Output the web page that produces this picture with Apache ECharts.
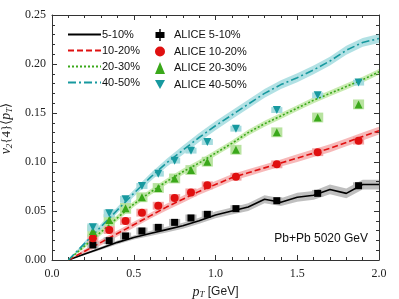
<!DOCTYPE html>
<html><head><meta charset="utf-8">
<script src="https://cdn.jsdelivr.net/npm/echarts@6/dist/echarts.min.js"></script>
<style>html,body{margin:0;padding:0;background:#fff}#c{width:399px;height:299px}</style>
</head><body><div id="c"></div>
<script>
// Model curves (pT grid)
const xModel = [0.1,0.2,0.3,0.4,0.5,0.6,0.7,0.8,0.9,1.0,1.1,1.2,1.3,1.4,1.5,1.6,1.7,1.8,1.9,2.0];
const model5_10  = [0,0.006,0.012,0.018,0.023,0.027,0.031,0.035,0.040,0.046,0.050,0.054,0.062,0.059,0.064,0.066,0.072,0.068,0.077,0.077];
const model10_20 = [0,0.009,0.018,0.027,0.036,0.045,0.054,0.062,0.070,0.077,0.084,0.089,0.094,0.099,0.104,0.109,0.114,0.120,0.126,0.132];
const model20_30 = [0,0.0143,0.0286,0.043,0.057,0.069,0.080,0.090,0.099,0.109,0.119,0.130,0.139,0.147,0.155,0.163,0.170,0.177,0.184,0.192];
const model40_50 = [0,0.017,0.034,0.051,0.068,0.084,0.099,0.112,0.125,0.137,0.148,0.159,0.170,0.179,0.186,0.194,0.203,0.214,0.222,0.226];
// model band half-widths
const band5_10  = [0,0.001,0.0015,0.002,0.002,0.0025,0.003,0.003,0.003,0.0035,0.0035,0.004,0.004,0.004,0.0045,0.0045,0.005,0.005,0.005,0.005];
const band10_20 = [0,0.002,0.003,0.003,0.003,0.003,0.0035,0.0035,0.0035,0.0035,0.0035,0.0035,0.0035,0.0035,0.004,0.004,0.004,0.004,0.004,0.004];
const band20_30 = [0,0.002,0.003,0.003,0.003,0.003,0.003,0.003,0.003,0.003,0.003,0.003,0.003,0.003,0.003,0.003,0.003,0.003,0.003,0.003];
const band40_50 = [0,0.002,0.003,0.003,0.0035,0.004,0.004,0.0045,0.0045,0.0045,0.0045,0.0045,0.0045,0.0045,0.0045,0.0045,0.0045,0.0045,0.0045,0.0045];

// ALICE data
const xData = [0.25,0.35,0.45,0.55,0.65,0.75,0.85,0.95,1.125,1.375,1.625,1.875];
const alice5_10  = [0.0153,0.0197,0.0245,0.0296,0.0333,0.0384,0.0429,0.0466,0.0524,0.0605,0.068,0.0758];
const alice10_20 = [0.0221,0.0306,0.0398,0.0483,0.0554,0.0633,0.069,0.0762,0.085,0.0976,0.110,0.1218];
const alice20_30 = [0.0296,0.0408,0.0527,0.064,0.0735,0.0832,0.0918,0.1003,0.1125,0.1303,0.1454,0.1588];
const alice40_50 = [0.0333,0.0476,0.0619,0.0755,0.0881,0.1014,0.1116,0.1204,0.134,0.153,0.168,0.181];
const sys5_10  = [0.0035,0.0035,0.0035,0.0035,0.0035,0.0035,0.0035,0.0035,0.0035,0.0035,0.0035,0.0035];
const sys10_20 = [0.004,0.004,0.004,0.004,0.004,0.004,0.004,0.004,0.004,0.004,0.004,0.004];
const sys20_30 = [0.006,0.006,0.0055,0.005,0.005,0.005,0.005,0.005,0.005,0.005,0.005,0.005];
const sys40_50 = [0.004,0.004,0.0035,0.003,0.003,0.003,0.003,0.003,0.003,0.003,0.003,0.003];

const modelNames = ['5-10%','10-20%','20-30%','40-50%'];
const aliceNames = ['ALICE 5-10%','ALICE 10-20%','ALICE 20-30%','ALICE 40-50%'];
const xTicks = [0,0.5,1.0,1.5,2.0];
const yTicks = [0,0.05,0.10,0.15,0.20,0.25];

const lineColors = ['#000000','#e01010','#3aa81a','#17999f'];
const bandColors = ['rgba(0,0,0,0.25)','rgba(235,70,70,0.38)','rgba(120,205,60,0.40)','rgba(50,175,185,0.38)'];
const boxColors = ['#b8b8b8','#f3a8a8','#b8e3a0','#a6dcdf'];
const lineTypes = ['solid',[6,3],[2,2],[8,3,2,3]];
const models = [model5_10,model10_20,model20_30,model40_50];
const bands = [band5_10,band10_20,band20_30,band40_50];
const alices = [alice5_10,alice10_20,alice20_30,alice40_50];
const syss = [sys5_10,sys10_20,sys20_30,sys40_50];
const symbols = ['rect','circle','triangle','triangle'];
const symRot = [0,0,0,180];
const symSize = [7,8,8,8];
const legendIcons = [
 'path://M4.3,0 h1.4 v3 h3.8 v6 h-3.8 v3 h-1.4 v-3 h-3.8 v-6 h3.8 z',
 'circle','triangle','path://M0,0 L10,0 L5,9 Z'
];

const series = [];
for (let k=0;k<4;k++){
  const ys = models[k], es = bands[k];
  series.push({
    type:'custom', z:1, silent:true, clip:true,
    data: xModel.map((x,i)=>[x, ys[i]-es[i], ys[i]+es[i]]),
    encode:{x:0,y:[1,2]},
    renderItem:(params, api)=>{
      if (params.dataIndex!==0) return null;
      const pts=[];
      for (let i=0;i<xModel.length;i++) pts.push(api.coord([xModel[i], ys[i]+es[i]]));
      for (let i=xModel.length-1;i>=0;i--) pts.push(api.coord([xModel[i], ys[i]-es[i]]));
      return {type:'polygon', shape:{points:pts}, style:{fill:bandColors[k]}};
    }
  });
}
for (let k=0;k<4;k++){
  const ys=alices[k], ss=syss[k];
  series.push({
    type:'custom', z:2, silent:true, clip:true,
    data: xData.map((x,i)=>[x, ys[i], ss[i]]),
    renderItem:(params, api)=>{
      const x=api.value(0), y=api.value(1), s=api.value(2);
      const p1=api.coord([x-0.034, y+s]), p2=api.coord([x+0.034, y-s]);
      return {type:'rect', shape:{x:p1[0],y:p1[1],width:p2[0]-p1[0],height:p2[1]-p1[1]}, style:{fill:boxColors[k]}};
    }
  });
}
for (let k=0;k<4;k++){
  series.push({
    type:'line', name:modelNames[k], z:3, symbol:'none', smooth:false,
    data: xModel.map((x,i)=>[x, models[k][i]]),
    lineStyle:{color:lineColors[k], width:1.6, type:lineTypes[k]},
    itemStyle:{color:lineColors[k]}
  });
}
for (let k=0;k<4;k++){
  series.push({
    type:'scatter', name:aliceNames[k], z:4,
    symbol:symbols[k], symbolRotate:symRot[k], symbolSize:symSize[k],
    data: xData.map((x,i)=>[x, alices[k][i]]),
    itemStyle:{color:lineColors[k], opacity:1}
  });
}

const axisCommon = {
  type:'value',
  axisLine:{show:true, onZero:false, lineStyle:{color:'#333', width:1}},
  axisTick:{show:true, inside:true, length:5, lineStyle:{color:'#333'}},
  minorTick:{show:true, splitNumber:5, length:3, lineStyle:{color:'#333'}},
  splitLine:{show:false}, minorSplitLine:{show:false}
};
const labelFont = {fontFamily:'Liberation Serif', fontSize:12, color:'#222'};

const option = {
  animation:false,
  backgroundColor:'#fff',
  grid:{left:52, right:20, top:15, bottom:39, containLabel:false, outerBoundsMode:'none'},
  xAxis:[
    Object.assign({}, axisCommon, {position:'bottom', min:xTicks[0], max:xTicks[xTicks.length-1], interval:0.5,
      axisLabel:Object.assign({margin:8, formatter:v=>v.toFixed(1)}, labelFont),
      name:'{i|p}{s|T} {n|[GeV]}', nameLocation:'middle', nameGap:22,
      nameTextStyle:{fontFamily:'Liberation Serif', fontSize:13, color:'#222', rich:{
        i:{fontFamily:'Liberation Serif', fontStyle:'italic', fontSize:14, color:'#222'},
        s:{fontFamily:'Liberation Serif', fontStyle:'italic', fontSize:9, color:'#222', verticalAlign:'bottom', padding:[6,0,0,0]},
        n:{fontFamily:'Liberation Sans', fontSize:12, color:'#222'}}}}),
    Object.assign({}, axisCommon, {position:'top', min:0, max:2, interval:0.5, axisLabel:{show:false}})
  ],
  yAxis:[
    Object.assign({}, axisCommon, {position:'left', min:yTicks[0], max:yTicks[yTicks.length-1], interval:0.05,
      axisLabel:Object.assign({margin:6, formatter:v=>v.toFixed(2)}, labelFont),
      name:'{i|v}{s|2}{n|{4}}{n|⟨}{i|p}{s|T}{n|⟩}', nameLocation:'middle', nameRotate:90, nameGap:34,
      nameTextStyle:{fontFamily:'Liberation Serif', fontSize:13, color:'#222', padding:[0,0,0,18], rich:{
        i:{fontFamily:'Liberation Serif', fontStyle:'italic', fontSize:14, color:'#222'},
        s:{fontFamily:'Liberation Serif', fontStyle:'italic', fontSize:9, color:'#222', verticalAlign:'bottom', padding:[6,0,0,0]},
        n:{fontFamily:'Liberation Serif', fontSize:13, color:'#222'}}}}),
    Object.assign({}, axisCommon, {position:'right', min:0, max:0.25, interval:0.05, axisLabel:{show:false}})
  ],
  legend:[
    {data:modelNames, orient:'vertical', left:62, top:24, itemWidth:33, itemHeight:12, itemGap:5,
      itemStyle:{opacity:0, borderWidth:0},
      textStyle:{fontFamily:'Liberation Sans', fontSize:11, color:'#111', padding:[0,0,0,-4]}},
    {data:aliceNames.map((n,k)=>({name:n, icon:legendIcons[k]})), orient:'vertical', left:150, top:24, itemWidth:10, itemHeight:12, itemGap:5,
      textStyle:{fontFamily:'Liberation Sans', fontSize:11, color:'#111', padding:[0,0,0,4]}}
  ],
  graphic:[{type:'text', right:31, top:233, style:{text:'Pb+Pb 5020 GeV', font:'12px "Liberation Sans"', fill:'#111'}}],
  series:series
};
const chart = echarts.init(document.getElementById('c'), null, {renderer:'canvas'});
chart.setOption(option);
</script></body></html>
